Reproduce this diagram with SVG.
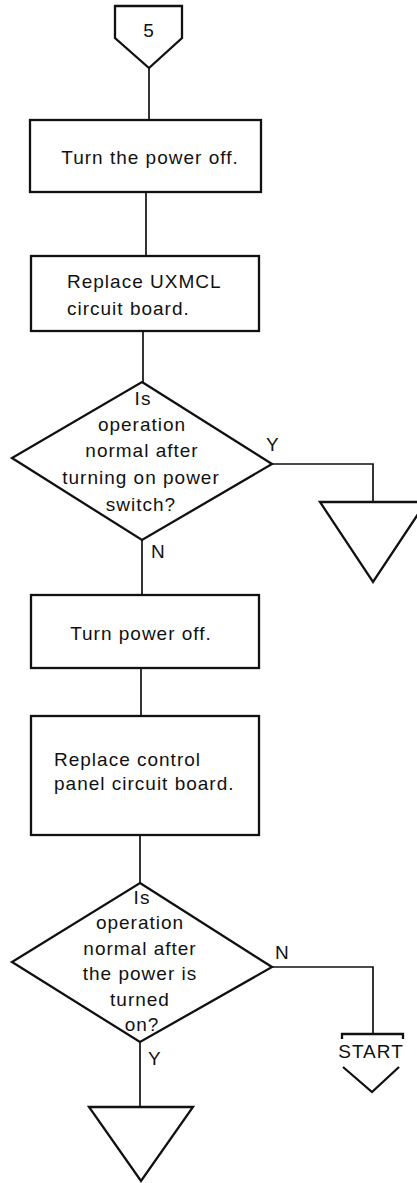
<svg xmlns="http://www.w3.org/2000/svg" width="417" height="1183" viewBox="0 0 417 1183">
<style>
.s{fill:#fff;stroke:#111;stroke-width:2.3;stroke-linejoin:miter}
.o{fill:none;stroke:#111;stroke-width:2.3}
.c{fill:none;stroke:#111;stroke-width:1.7}
.t{font-family:"Liberation Sans",Arial,sans-serif;font-size:19px;letter-spacing:1px;fill:#111}
.m{text-anchor:middle}
</style>
<rect width="417" height="1183" fill="#fff"/>
<g id="connectors">
<line class="c" x1="149" y1="68" x2="149" y2="120"/>
<line class="c" x1="146" y1="192" x2="146" y2="256"/>
<line class="c" x1="143" y1="331" x2="143" y2="382"/>
<line class="c" x1="142" y1="540" x2="142" y2="595"/>
<line class="c" x1="141" y1="668" x2="141" y2="716"/>
<line class="c" x1="140" y1="835" x2="140" y2="883"/>
<line class="c" x1="140" y1="1042" x2="140" y2="1107"/>
<polyline class="c" points="272,464 373,464 373,502"/>
<polyline class="c" points="272,967 373,967 373,1034"/>
<text class="t" x="266" y="451">Y</text>
<text class="t" x="151" y="558">N</text>
<text class="t" x="275" y="959">N</text>
<text class="t" x="148" y="1065">Y</text>
</g>
<g id="n5">
<polygon class="s" points="115,6 182,6 182,38 149,68 115,38"/>
<text class="t m" x="149" y="37" font-size="21" letter-spacing="0">5</text>
</g>
<g id="box1">
<rect class="s" x="30" y="120" width="231" height="72"/>
<text class="t m" x="150" y="164">Turn the power off.</text>
</g>
<g id="box2">
<rect class="s" x="31" y="256" width="228" height="75"/>
<text class="t" x="67" y="288">Replace UXMCL</text>
<text class="t" x="67" y="315">circuit board.</text>
</g>
<g id="dec1">
<polygon class="s" points="142,382 272,464 142,540 12,458"/>
<text class="t m" x="143" y="405">Is</text>
<text class="t m" x="142" y="431">operation</text>
<text class="t m" x="142" y="457">normal after</text>
<text class="t m" x="141" y="484">turning on power</text>
<text class="t m" x="141" y="511">switch?</text>
</g>
<g id="tri1">
<polygon class="s" points="320,502 426,502 373,582"/>
</g>
<g id="box3">
<rect class="s" x="31" y="595" width="228" height="73"/>
<text class="t m" x="141" y="640">Turn power off.</text>
</g>
<g id="box4">
<rect class="s" x="31" y="716" width="228" height="119"/>
<text class="t" x="54" y="766">Replace control</text>
<text class="t" x="54" y="790">panel circuit board.</text>
</g>
<g id="dec2">
<polygon class="s" points="140,883 272,967 140,1042 12,962"/>
<text class="t m" x="142" y="904">Is</text>
<text class="t m" x="140" y="929">operation</text>
<text class="t m" x="140" y="955">normal after</text>
<text class="t m" x="140" y="980">the power is</text>
<text class="t m" x="140" y="1006">turned</text>
<text class="t m" x="142" y="1031">on?</text>
</g>
<g id="start">
<polyline class="o" points="342,1039 342,1034 403,1034 403,1039"/>
<text class="t m" x="371" y="1058" font-size="20" letter-spacing="1.5">START</text>
<polyline class="o" points="343,1067 372,1092 399,1067"/>
</g>
<g id="tri2">
<polygon class="s" points="89,1107 193,1107 141,1181"/>
</g>
</svg>
